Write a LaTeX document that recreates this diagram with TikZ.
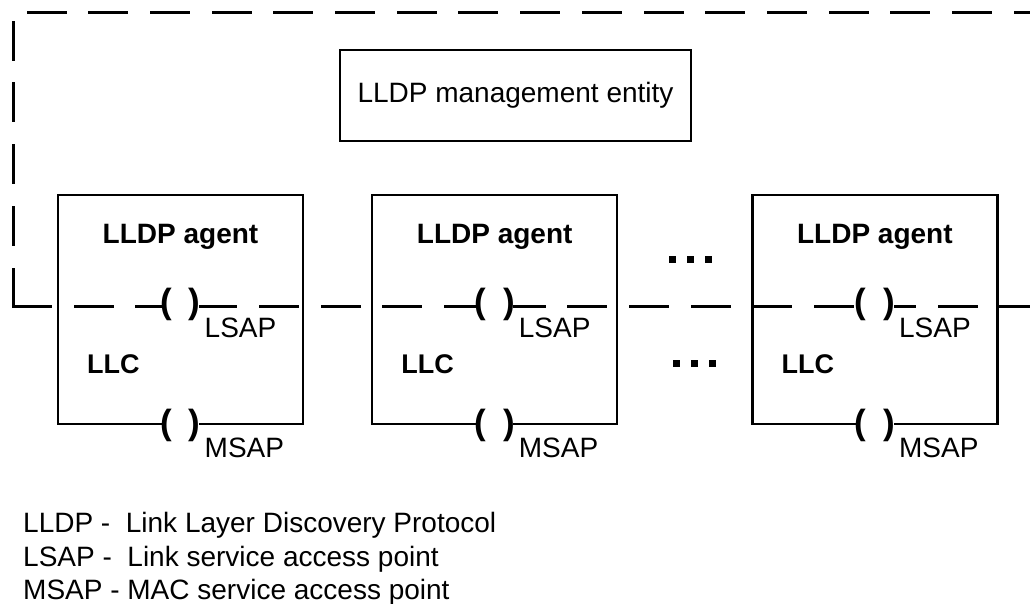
\documentclass[tikz,border=0pt]{standalone}
\usepackage{fontspec}
\setmainfont{Liberation Sans}
\usetikzlibrary{positioning}

\tikzset{
  agentbox/.style={draw, line width=2.2pt, minimum width=245pt, minimum height=229pt, inner sep=0pt},
  mgmtbox/.style={draw, line width=2.2pt, minimum width=351pt, minimum height=91pt,
    font=\fontsize{28}{34}\selectfont},
  outerline/.style={line width=3pt, line cap=rect, dash pattern=on 37pt off 24.7pt},
  sapparen/.style={fill=white, inner xsep=-1.5pt, inner ysep=0pt,
    font=\fontsize{35}{40}\selectfont\bfseries},
  saplabel/.style={anchor=base west, inner sep=0pt, font=\fontsize{28}{34}\selectfont},
  agentlabel/.style={anchor=base, inner sep=0pt, font=\fontsize{28}{34}\selectfont\bfseries},
  llclabel/.style={anchor=base west, inner sep=0pt, font=\fontsize{27}{32}\selectfont\bfseries},
  legendline/.style={anchor=base west, inner sep=0pt, font=\fontsize{28}{34}\selectfont}
}

\begin{document}
\begin{tikzpicture}[x=1pt, y=-1pt]
    \useasboundingbox (0,0) rectangle (1030,603);

    % management entity
    \node[mgmtbox] (mgmt) at (515.5,95.5) {LLDP management entity};

    % agent boxes
    \node[agentbox] (box1) at (180.5,309.5) {};
    \node[agentbox, right=67pt of box1] (box2) {};
    \node[agentbox, right=133pt of box2] (box3) {};

    % dashed boundary and LSAP line
    \coordinate (corner) at (13.5,306);
    \draw[outerline] (corner) -- (13.5,12) -- (1030,12);
    \draw[outerline] (corner) -- (1030,306);

    % service access points
    \foreach \b in {1,2,3} {
        \node[sapparen] (lsap\b) at ([yshift=-111pt]box\b.north) {(\hspace{17pt})};
        \node[sapparen] (msap\b) at (box\b.south) {(\hspace{17pt})};
        \node[saplabel] (lsaplab\b) at ([xshift=24pt,yshift=-33pt]lsap\b.center) {LSAP};
        \node[saplabel] (msaplab\b) at ([xshift=24pt,yshift=-32pt]msap\b.center) {MSAP};
        \node[agentlabel] (agent\b) at ([yshift=-50pt]box\b.north) {LLDP agent};
        \node[llclabel] (llc\b) at ([xshift=30pt,yshift=-180pt]box\b.north west) {LLC};
    }

    % dots
    \foreach \x in {672.5,690.5,708.5}
        \fill (\x-3.5,256) rectangle ++(7,7);
    \foreach \x in {676.5,694.5,712.5}
        \fill (\x-3.5,360) rectangle ++(7,7);

    % legend
    \node[legendline] (leg1) at (23,532) {LLDP -~ Link Layer Discovery Protocol};
    \node[legendline] (leg2) at (23,566) {LSAP -~ Link service access point};
    \node[legendline] (leg3) at (23,599) {MSAP - MAC service access point};
\end{tikzpicture}
\end{document}
